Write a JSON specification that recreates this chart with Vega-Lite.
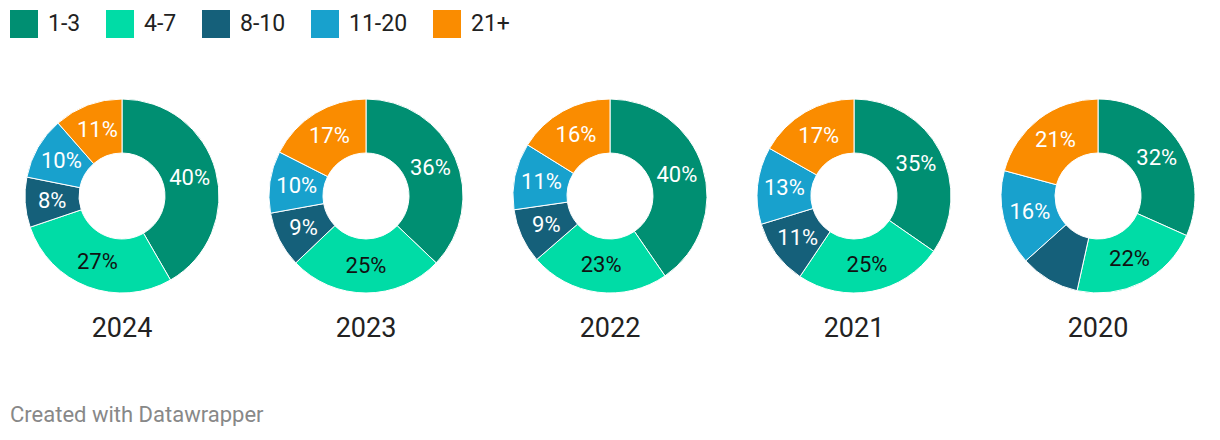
{
  "$schema": "https://vega.github.io/schema/vega-lite/v6.json",
  "padding": {"left": 0, "top": 0, "right": 0, "bottom": 0},
  "background": "white",
  "config": {
    "font": "Roboto",
    "view": {"stroke": null},
    "facet": {"spacing": 0}
  },
  "title": {
    "text": "Created with Datawrapper",
    "orient": "bottom",
    "anchor": "start",
    "color": "#888888",
    "fontSize": 22,
    "fontWeight": "normal",
    "font": "Roboto",
    "offset": 63,
    "dx": 10
  },
  "data": {
    "values": [
      {"year": "2024", "group": "1-3", "k": 1, "value": 40, "label": "40%"},
      {"year": "2024", "group": "4-7", "k": 2, "value": 27, "label": "27%"},
      {"year": "2024", "group": "8-10", "k": 3, "value": 8, "label": "8%"},
      {"year": "2024", "group": "11-20", "k": 4, "value": 10, "label": "10%"},
      {"year": "2024", "group": "21+", "k": 5, "value": 11, "label": "11%"},
      {"year": "2023", "group": "1-3", "k": 1, "value": 36, "label": "36%"},
      {"year": "2023", "group": "4-7", "k": 2, "value": 25, "label": "25%"},
      {"year": "2023", "group": "8-10", "k": 3, "value": 9, "label": "9%"},
      {"year": "2023", "group": "11-20", "k": 4, "value": 10, "label": "10%"},
      {"year": "2023", "group": "21+", "k": 5, "value": 17, "label": "17%"},
      {"year": "2022", "group": "1-3", "k": 1, "value": 40, "label": "40%"},
      {"year": "2022", "group": "4-7", "k": 2, "value": 23, "label": "23%"},
      {"year": "2022", "group": "8-10", "k": 3, "value": 9, "label": "9%"},
      {"year": "2022", "group": "11-20", "k": 4, "value": 11, "label": "11%"},
      {"year": "2022", "group": "21+", "k": 5, "value": 16, "label": "16%"},
      {"year": "2021", "group": "1-3", "k": 1, "value": 35, "label": "35%"},
      {"year": "2021", "group": "4-7", "k": 2, "value": 25, "label": "25%"},
      {"year": "2021", "group": "8-10", "k": 3, "value": 11, "label": "11%"},
      {"year": "2021", "group": "11-20", "k": 4, "value": 13, "label": "13%"},
      {"year": "2021", "group": "21+", "k": 5, "value": 17, "label": "17%"},
      {"year": "2020", "group": "1-3", "k": 1, "value": 32, "label": "32%"},
      {"year": "2020", "group": "4-7", "k": 2, "value": 22, "label": "22%"},
      {"year": "2020", "group": "8-10", "k": 3, "value": 10, "label": ""},
      {"year": "2020", "group": "11-20", "k": 4, "value": 16, "label": "16%"},
      {"year": "2020", "group": "21+", "k": 5, "value": 21, "label": "21%"}
    ]
  },
  "facet": {
    "column": {
      "field": "year",
      "type": "nominal",
      "sort": "descending",
      "title": null,
      "header": {
        "labelOrient": "bottom",
        "labelFontSize": 27,
        "labelColor": "#222222",
        "labelFont": "Roboto",
        "labelPadding": 21
      }
    }
  },
  "spec": {
    "width": 244,
    "height": 194,
    "layer": [
      {
        "mark": {"type": "arc", "outerRadius": 97, "innerRadius": 43, "stroke": "white", "strokeWidth": 1},
        "encoding": {
          "theta": {"field": "value", "type": "quantitative", "stack": true},
          "order": {"field": "k", "type": "quantitative"},
          "color": {
            "field": "group",
            "type": "nominal",
            "scale": {
              "domain": ["1-3", "4-7", "8-10", "11-20", "21+"],
              "range": ["#008f72", "#00dca6", "#15607a", "#18a1cd", "#fa8c00"]
            },
            "legend": {
              "title": null,
              "orient": "top",
              "direction": "horizontal",
              "offset": 49,
              "symbolType": "square",
              "symbolSize": 784,
              "symbolStrokeWidth": 0,
              "symbolOpacity": 1,
              "labelFontSize": 23,
              "labelFont": "Roboto",
              "labelColor": "#222222",
              "labelOffset": 10,
              "columnPadding": 25,
              "padding": 10
            }
          }
        }
      },
      {
        "mark": {"type": "text", "radius": 70, "fontSize": 22, "font": "Roboto"},
        "encoding": {
          "theta": {"field": "value", "type": "quantitative", "stack": true},
          "order": {"field": "k", "type": "quantitative"},
          "text": {"field": "label"},
          "color": {
            "condition": {"test": "datum.group === '4-7'", "value": "#111111"},
            "value": "#ffffff"
          }
        }
      }
    ]
  }
}
